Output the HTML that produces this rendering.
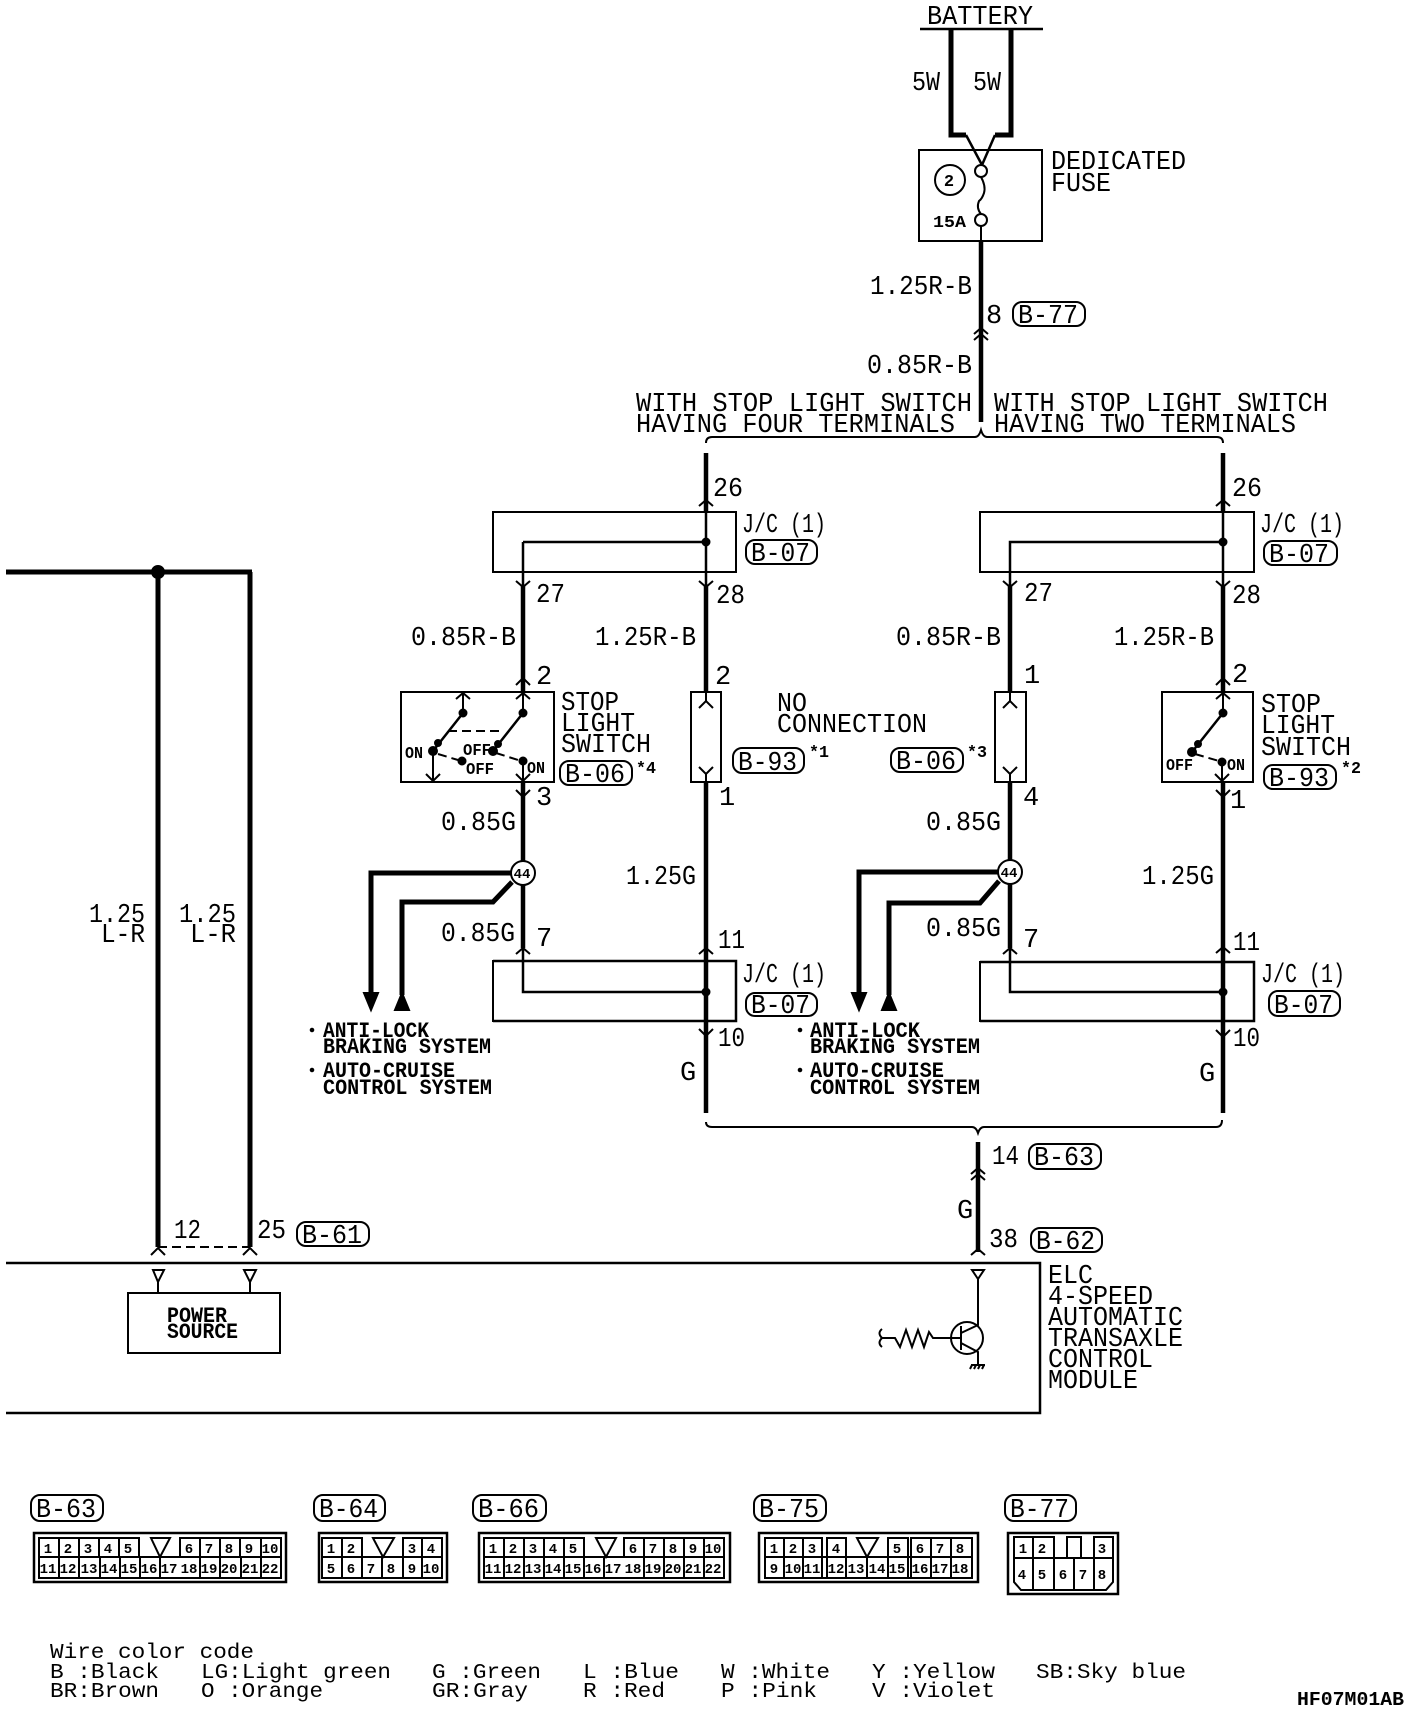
<!DOCTYPE html>
<html><head><meta charset="utf-8"><style>
html,body{margin:0;padding:0;background:#fff}
svg{display:block}
text{font-family:"Liberation Mono",monospace;fill:#000;font-size:27px;white-space:pre;transform:translateX(-1px)}
.s{font-size:22px;font-weight:bold}
.b{font-weight:bold;font-size:17px}
.c{font-weight:bold;font-size:14px;text-anchor:middle}
.l{font-size:21px}
path,rect,circle,line{fill:none;stroke:#000;stroke-width:2}
.w{stroke-width:4.5}.h{stroke-width:5}.f{fill:#000}.wf{fill:#fff}.d{stroke-dasharray:9 5}
.o{stroke-width:2.5}
</style></head><body>
<svg width="1424" height="1712" viewBox="0 0 1424 1712" xmlns="http://www.w3.org/2000/svg">
<!-- battery -->
<text x="928" y="24" textLength="106" lengthAdjust="spacingAndGlyphs">BATTERY</text>
<path d="M920 29H1043" class="o"/>
<path d="M951 29V135H966M1011 29V135H995" class="h"/>
<path d="M966 135L982 165M995 135L982 165" class="o"/>
<text x="913" y="90" textLength="28" lengthAdjust="spacingAndGlyphs">5W</text>
<text x="974" y="90" textLength="28" lengthAdjust="spacingAndGlyphs">5W</text>
<rect x="919" y="150" width="123" height="91"/>
<text x="1052" y="169" textLength="135" lengthAdjust="spacingAndGlyphs">DEDICATED</text>
<text x="1052" y="191" textLength="60" lengthAdjust="spacingAndGlyphs">FUSE</text>
<circle cx="950" cy="180" r="15"/><text class="b" x="950" y="186" text-anchor="middle">2</text>
<text class="b" x="934" y="227" textLength="33" lengthAdjust="spacingAndGlyphs">15A</text>
<circle cx="981" cy="171" r="6" class="wf"/><circle cx="981" cy="220" r="6" class="wf"/>
<path d="M981 177Q986 186 984 193Q982 199 979 201Q976 208 981 214"/>
<path d="M981 226V241"/>
<path d="M981 241V422" class="w"/>
<text x="871" y="294" textLength="102" lengthAdjust="spacingAndGlyphs">1.25R-B</text>
<text x="987" y="323">8</text>
<rect x="1013" y="302" width="72" height="24" rx="9"/><text x="1019" y="323" textLength="60" lengthAdjust="spacingAndGlyphs">B-77</text>
<path d="M974 334L981 328L988 334M974 340L981 334L988 340" />
<text x="868" y="373" textLength="105" lengthAdjust="spacingAndGlyphs">0.85R-B</text>
<text x="637" y="411" textLength="336" lengthAdjust="spacingAndGlyphs">WITH STOP LIGHT SWITCH</text>
<text x="637" y="432" textLength="319" lengthAdjust="spacingAndGlyphs">HAVING FOUR TERMINALS</text>
<text x="995" y="411" textLength="334" lengthAdjust="spacingAndGlyphs">WITH STOP LIGHT SWITCH</text>
<text x="995" y="432" textLength="302" lengthAdjust="spacingAndGlyphs">HAVING TWO TERMINALS</text>
<path d="M706 443Q706 437 712 437L975 437Q979 437 981 430Q983 437 987 437L1217 437Q1223 437 1223 443"/>

<!-- left branch upper -->
<path d="M706 453V512M1223 453V512" class="w"/>
<path d="M699 506L706 500L713 506M1216 506L1223 500L1230 506"/>
<text x="714" y="496" textLength="30" lengthAdjust="spacingAndGlyphs">26</text>
<text x="1233" y="496" textLength="30" lengthAdjust="spacingAndGlyphs">26</text>
<rect x="493" y="512" width="243" height="60"/>
<path d="M523 542H706M523 542V585M706 512V585" class="o"/>
<circle cx="706" cy="542" r="3.5" class="f"/>
<text x="743" y="532" textLength="84" lengthAdjust="spacingAndGlyphs">J/C (1)</text>
<rect x="746" y="540" width="71" height="24" rx="9"/><text x="752" y="561" textLength="59" lengthAdjust="spacingAndGlyphs">B-07</text>
<path d="M516 581L523 587L530 581M699 581L706 587L713 581"/>
<text x="537" y="602" textLength="29" lengthAdjust="spacingAndGlyphs">27</text>
<text x="717" y="603" textLength="29" lengthAdjust="spacingAndGlyphs">28</text>
<path d="M523 585V692M706 585V692" class="w"/>
<text x="412" y="645" textLength="105" lengthAdjust="spacingAndGlyphs">0.85R-B</text>
<text x="596" y="645" textLength="101" lengthAdjust="spacingAndGlyphs">1.25R-B</text>
<text x="537" y="684">2</text><text x="716" y="684">2</text>
<path d="M516 685L523 678L530 685"/>
<!-- switch left -->
<rect x="401" y="692" width="153" height="90"/>
<path d="M456 699L463 693L470 699M516 699L523 693L530 699M463 693V713M523 693V713"/>
<circle cx="463" cy="713" r="3.5" class="f"/><circle cx="523" cy="713" r="3.5" class="f"/>
<path d="M463 713L433 751M523 713L493 751" class="o"/>
<circle cx="433" cy="751" r="4" class="f"/><circle cx="438" cy="743" r="3" class="f"/><circle cx="493" cy="751" r="4" class="f"/><circle cx="498" cy="744" r="3" class="f"/>
<path d="M448 731H503" class="d"/>
<path d="M438 754L458 760M496 753L518 760" class="d"/>
<circle cx="462" cy="761" r="3.5" class="f"/><circle cx="523" cy="761" r="3.5" class="f"/>
<path d="M433 751V782M523 761V782M426 774L433 781L440 774M516 774L523 781L530 774"/>
<text class="b" x="406" y="758" textLength="18" lengthAdjust="spacingAndGlyphs">ON</text>
<text class="b" x="464" y="755" textLength="28" lengthAdjust="spacingAndGlyphs">OFF</text>
<text class="b" x="467" y="774" textLength="28" lengthAdjust="spacingAndGlyphs">OFF</text>
<text class="b" x="528" y="773" textLength="18" lengthAdjust="spacingAndGlyphs">ON</text>
<text x="562" y="710" textLength="58" lengthAdjust="spacingAndGlyphs">STOP</text>
<text x="562" y="731" textLength="74" lengthAdjust="spacingAndGlyphs">LIGHT</text>
<text x="562" y="752" textLength="90" lengthAdjust="spacingAndGlyphs">SWITCH</text>
<rect x="560" y="761" width="72" height="24" rx="9"/><text x="566" y="782" textLength="60" lengthAdjust="spacingAndGlyphs">B-06</text>
<text class="b" x="637" y="773" textLength="20" lengthAdjust="spacingAndGlyphs">*4</text>
<!-- fuse-like B-93 -->
<rect x="691" y="692" width="30" height="90"/>
<path d="M699 708L706 701L713 708M699 767L706 774L713 767M706 774V782M706 692V701"/>
<text x="778" y="711" textLength="30" lengthAdjust="spacingAndGlyphs">NO</text>
<text x="778" y="732" textLength="150" lengthAdjust="spacingAndGlyphs">CONNECTION</text>
<rect x="733" y="748" width="71" height="25" rx="9"/><text x="739" y="770" textLength="59" lengthAdjust="spacingAndGlyphs">B-93</text>
<text class="b" x="810" y="757" textLength="20" lengthAdjust="spacingAndGlyphs">*1</text>
<path d="M706 782V961" class="w"/>
<text x="720" y="805">1</text>
<path d="M516 790L523 797L530 790"/><path d="M523 782V861" class="w"/>
<text x="537" y="805">3</text>
<text x="442" y="830" textLength="75" lengthAdjust="spacingAndGlyphs">0.85G</text>
<text x="627" y="884" textLength="70" lengthAdjust="spacingAndGlyphs">1.25G</text>
<!-- 44 left -->
<path d="M511 873H371V993" class="h"/>
<path d="M512 882L493 902H402V995" class="h"/>
<path d="M364 993H378L371 1010Z" class="f"/>
<path d="M395 1010H409L402 993Z" class="f"/>
<circle cx="523" cy="873" r="12" class="wf"/><text class="c" x="523" y="878">44</text>
<path d="M523 885V948" class="w"/>
<text x="442" y="941" textLength="74" lengthAdjust="spacingAndGlyphs">0.85G</text>
<text x="537" y="946">7</text>
<text x="719" y="948" textLength="27" lengthAdjust="spacingAndGlyphs">11</text>
<path d="M516 954L523 948L530 954M699 954L706 948L713 954"/>
<rect x="493" y="961" width="243" height="60"/>
<path d="M493 961H736V1021H493" class="o"/>
<path d="M523 948V992H706" class="o"/>
<path d="M706 961V1113" class="w"/>
<circle cx="706" cy="992" r="3.5" class="f"/>
<text x="743" y="982" textLength="84" lengthAdjust="spacingAndGlyphs">J/C (1)</text>
<rect x="746" y="993" width="71" height="23" rx="9"/><text x="752" y="1013" textLength="59" lengthAdjust="spacingAndGlyphs">B-07</text>
<path d="M699 1029L706 1036L713 1029"/>
<text x="719" y="1046" textLength="27" lengthAdjust="spacingAndGlyphs">10</text>
<text x="681" y="1080">G</text>
<circle cx="312" cy="1030" r="1.3" class="f"/><circle cx="312" cy="1070" r="1.3" class="f"/>
<text class="s" x="324" y="1037" textLength="106" lengthAdjust="spacingAndGlyphs">ANTI-LOCK</text>
<text class="s" x="324" y="1053" textLength="168" lengthAdjust="spacingAndGlyphs">BRAKING SYSTEM</text>
<text class="s" x="324" y="1077" textLength="132" lengthAdjust="spacingAndGlyphs">AUTO-CRUISE</text>
<text class="s" x="324" y="1094" textLength="169" lengthAdjust="spacingAndGlyphs">CONTROL SYSTEM</text>

<!-- right branch -->
<rect x="980" y="512" width="274" height="60"/>
<path d="M1010 585V542H1223M1223 512V585" class="o"/>
<circle cx="1223" cy="542" r="3.5" class="f"/>
<text x="1261" y="532" textLength="84" lengthAdjust="spacingAndGlyphs">J/C (1)</text>
<rect x="1264" y="541" width="73" height="24" rx="9"/><text x="1270" y="562" textLength="60" lengthAdjust="spacingAndGlyphs">B-07</text>
<path d="M1003 581L1010 587L1017 581M1216 581L1223 587L1230 581"/>
<text x="1025" y="601" textLength="29" lengthAdjust="spacingAndGlyphs">27</text>
<text x="1233" y="603" textLength="29" lengthAdjust="spacingAndGlyphs">28</text>
<path d="M1010 585V692M1223 585V692" class="w"/>
<text x="897" y="645" textLength="105" lengthAdjust="spacingAndGlyphs">0.85R-B</text>
<text x="1115" y="645" textLength="100" lengthAdjust="spacingAndGlyphs">1.25R-B</text>
<text x="1025" y="683">1</text><text x="1233" y="682">2</text>
<path d="M1216 685L1223 678L1230 685"/>
<rect x="995" y="692" width="31" height="90"/>
<path d="M1003 708L1010 701L1017 708M1003 767L1010 774L1017 767M1010 774V782M1010 692V701"/>
<rect x="891" y="748" width="72" height="24" rx="9"/><text x="897" y="769" textLength="60" lengthAdjust="spacingAndGlyphs">B-06</text>
<text class="b" x="968" y="757" textLength="20" lengthAdjust="spacingAndGlyphs">*3</text>
<rect x="1162" y="692" width="91" height="90"/>
<path d="M1216 699L1223 693L1230 699M1223 693V713"/>
<circle cx="1223" cy="713" r="3.5" class="f"/>
<path d="M1223 713L1192 752" class="o"/>
<circle cx="1192" cy="752" r="4" class="f"/><circle cx="1198" cy="744" r="3" class="f"/>
<path d="M1195 754L1219 761" class="d"/>
<circle cx="1222" cy="762" r="3.5" class="f"/>
<path d="M1222 762V782M1215 774L1222 781L1229 774"/>
<text class="b" x="1167" y="770" textLength="27" lengthAdjust="spacingAndGlyphs">OFF</text>
<text class="b" x="1228" y="770" textLength="18" lengthAdjust="spacingAndGlyphs">ON</text>
<text x="1262" y="712" textLength="60" lengthAdjust="spacingAndGlyphs">STOP</text>
<text x="1262" y="733" textLength="74" lengthAdjust="spacingAndGlyphs">LIGHT</text>
<text x="1262" y="755" textLength="90" lengthAdjust="spacingAndGlyphs">SWITCH</text>
<rect x="1264" y="765" width="72" height="24" rx="9"/><text x="1270" y="786" textLength="60" lengthAdjust="spacingAndGlyphs">B-93</text>
<text class="b" x="1342" y="773" textLength="20" lengthAdjust="spacingAndGlyphs">*2</text>
<path d="M1010 782V861" class="w"/>
<path d="M1223 782V962" class="w"/>
<path d="M1216 790L1223 797L1230 790"/>
<text x="1024" y="805">4</text>
<text x="1231" y="808">1</text>
<text x="927" y="830" textLength="75" lengthAdjust="spacingAndGlyphs">0.85G</text>
<text x="1143" y="884" textLength="72" lengthAdjust="spacingAndGlyphs">1.25G</text>
<path d="M998 872H859V993" class="h"/>
<path d="M999 881L980 903H889V995" class="h"/>
<path d="M852 993H866L859 1010Z" class="f"/>
<path d="M882 1010H896L889 993Z" class="f"/>
<circle cx="1010" cy="872" r="12" class="wf"/><text class="c" x="1010" y="877">44</text>
<path d="M1010 884V948" class="w"/>
<text x="927" y="936" textLength="75" lengthAdjust="spacingAndGlyphs">0.85G</text>
<text x="1024" y="947">7</text>
<text x="1234" y="950" textLength="27" lengthAdjust="spacingAndGlyphs">11</text>
<path d="M1003 954L1010 948L1017 954M1216 953L1223 947L1230 953"/>
<rect x="980" y="962" width="274" height="59"/>
<path d="M980 962H1254V1021H980" class="o"/>
<path d="M1010 948V992H1223" class="o"/>
<path d="M1223 962V1113" class="w"/>
<circle cx="1223" cy="992" r="3.5" class="f"/>
<text x="1262" y="982" textLength="84" lengthAdjust="spacingAndGlyphs">J/C (1)</text>
<rect x="1269" y="991" width="71" height="25" rx="9"/><text x="1275" y="1013" textLength="59" lengthAdjust="spacingAndGlyphs">B-07</text>
<path d="M1216 1030L1223 1037L1230 1030"/>
<text x="1234" y="1046" textLength="27" lengthAdjust="spacingAndGlyphs">10</text>
<text x="1200" y="1081">G</text>
<circle cx="800" cy="1030" r="1.3" class="f"/><circle cx="800" cy="1070" r="1.3" class="f"/>
<text class="s" x="811" y="1037" textLength="110" lengthAdjust="spacingAndGlyphs">ANTI-LOCK</text>
<text class="s" x="811" y="1053" textLength="170" lengthAdjust="spacingAndGlyphs">BRAKING SYSTEM</text>
<text class="s" x="811" y="1077" textLength="134" lengthAdjust="spacingAndGlyphs">AUTO-CRUISE</text>
<text class="s" x="811" y="1094" textLength="170" lengthAdjust="spacingAndGlyphs">CONTROL SYSTEM</text>

<!-- bottom bracket -->
<path d="M706 1122Q706 1127 712 1127L972 1127Q976 1127 978 1133Q980 1127 984 1127L1216 1127Q1222 1127 1222 1120"/>
<path d="M978 1142V1252" class="w"/>
<path d="M971 1174L978 1168L985 1174M971 1180L978 1174L985 1180"/>
<text x="993" y="1164" textLength="27" lengthAdjust="spacingAndGlyphs">14</text>
<rect x="1029" y="1144" width="72" height="25" rx="9"/><text x="1035" y="1165" textLength="60" lengthAdjust="spacingAndGlyphs">B-63</text>
<text x="958" y="1218">G</text>
<text x="990" y="1247" textLength="29" lengthAdjust="spacingAndGlyphs">38</text>
<rect x="1031" y="1228" width="71" height="24" rx="9"/><text x="1037" y="1249" textLength="59" lengthAdjust="spacingAndGlyphs">B-62</text>
<path d="M971 1255L978 1249L985 1255"/>
<!-- module -->
<path d="M6 1263H1040V1413H6" class="o"/>
<path d="M972 1270H984L978 1279ZM978 1279V1325L961 1333M961 1326V1350M961 1343L978 1352V1365M971 1365H985M972 1365L970 1369M976 1365L974 1369M980 1365L978 1369M984 1365L982 1369"/>
<circle cx="967" cy="1338" r="16"/>
<path d="M882 1329Q877 1333 882 1338Q877 1343 882 1347M882 1338H895L900 1347L906 1330L912 1347L918 1330L924 1347L929 1332L933 1338H961"/>
<text x="1049" y="1283" textLength="45" lengthAdjust="spacingAndGlyphs">ELC</text>
<text x="1049" y="1304" textLength="105" lengthAdjust="spacingAndGlyphs">4-SPEED</text>
<text x="1049" y="1325" textLength="135" lengthAdjust="spacingAndGlyphs">AUTOMATIC</text>
<text x="1049" y="1346" textLength="135" lengthAdjust="spacingAndGlyphs">TRANSAXLE</text>
<text x="1049" y="1367" textLength="105" lengthAdjust="spacingAndGlyphs">CONTROL</text>
<text x="1049" y="1388" textLength="90" lengthAdjust="spacingAndGlyphs">MODULE</text>

<!-- power wires -->
<path d="M6 572H252M158 572V1247M250 572V1247" class="h"/>
<circle cx="158" cy="572" r="6" class="f"/>
<text x="90" y="922" textLength="56" lengthAdjust="spacingAndGlyphs">1.25</text>
<text x="102" y="942" textLength="44" lengthAdjust="spacingAndGlyphs">L-R</text>
<text x="180" y="922" textLength="57" lengthAdjust="spacingAndGlyphs">1.25</text>
<text x="191" y="942" textLength="46" lengthAdjust="spacingAndGlyphs">L-R</text>
<path d="M158 1247H250" class="d"/>
<path d="M151 1255L158 1248L165 1255M243 1255L250 1248L257 1255"/>
<text x="175" y="1238" textLength="27" lengthAdjust="spacingAndGlyphs">12</text>
<text x="258" y="1238" textLength="29" lengthAdjust="spacingAndGlyphs">25</text>
<rect x="297" y="1222" width="72" height="24" rx="9"/><text x="303" y="1243" textLength="60" lengthAdjust="spacingAndGlyphs">B-61</text>
<path d="M153 1270H164L158 1282ZM158 1282V1293M244 1270H256L250 1282ZM250 1282V1293"/>
<rect x="128" y="1293" width="152" height="60"/>
<text class="s" x="168" y="1322" textLength="60" lengthAdjust="spacingAndGlyphs">POWER</text>
<text class="s" x="168" y="1338" textLength="71" lengthAdjust="spacingAndGlyphs">SOURCE</text>

<!-- connector B-63 -->
<rect x="31" y="1495" width="72" height="26" rx="9"/><text x="37" y="1517" textLength="60" lengthAdjust="spacingAndGlyphs">B-63</text>
<rect x="34" y="1533" width="252" height="49" class="o"/>
<path d="M39 1557V1538H139V1557M59 1538V1578M79 1538V1578M99 1538V1557M100 1557V1578M119 1538V1557M120 1557V1578M140 1557V1578M160 1557V1578M180 1557V1538H281V1578M200 1538V1578M220 1538V1578M240 1538V1557M241 1557V1578M261 1538V1578M39 1557H281V1578H39Z"/>
<path d="M151 1538H170L160 1557Z"/>
<text class="c" x="49" y="1553">1</text><text class="c" x="69" y="1553">2</text><text class="c" x="89" y="1553">3</text><text class="c" x="109" y="1553">4</text><text class="c" x="129" y="1553">5</text><text class="c" x="190" y="1553">6</text><text class="c" x="210" y="1553">7</text><text class="c" x="230" y="1553">8</text><text class="c" x="250" y="1553">9</text><text class="c" x="271" y="1553">10</text>
<text class="c" x="49" y="1573">11</text><text class="c" x="69" y="1573">12</text><text class="c" x="90" y="1573">13</text><text class="c" x="110" y="1573">14</text><text class="c" x="130" y="1573">15</text><text class="c" x="150" y="1573">16</text><text class="c" x="170" y="1573">17</text><text class="c" x="190" y="1573">18</text><text class="c" x="210" y="1573">19</text><text class="c" x="230" y="1573">20</text><text class="c" x="251" y="1573">21</text><text class="c" x="271" y="1573">22</text>

<!-- connector B-64 -->
<rect x="314" y="1495" width="71" height="26" rx="9"/><text x="320" y="1517" textLength="59" lengthAdjust="spacingAndGlyphs">B-64</text>
<rect x="319" y="1533" width="128" height="49" class="o"/>
<path d="M322 1557V1538H362V1557M342 1538V1578M403 1557V1538H442V1578H322V1557H442M422 1538V1578M362 1557V1578M382 1557V1578M403 1557V1578"/>
<path d="M373 1538H394L383 1557Z"/>
<text class="c" x="332" y="1553">1</text><text class="c" x="352" y="1553">2</text><text class="c" x="413" y="1553">3</text><text class="c" x="432" y="1553">4</text>
<text class="c" x="332" y="1573">5</text><text class="c" x="352" y="1573">6</text><text class="c" x="372" y="1573">7</text><text class="c" x="392" y="1573">8</text><text class="c" x="413" y="1573">9</text><text class="c" x="432" y="1573">10</text>

<!-- connector B-66 -->
<rect x="473" y="1495" width="73" height="26" rx="9"/><text x="479" y="1517" textLength="61" lengthAdjust="spacingAndGlyphs">B-66</text>
<rect x="479" y="1533" width="251" height="49" class="o"/>
<path d="M484 1557V1538H584V1557M504 1538V1578M524 1538V1578M544 1538V1578M564 1538V1578M584 1557V1578M604 1557V1578M624 1557V1538H724V1578H484V1557H724M644 1538V1578M664 1538V1578M684 1538V1578M704 1538V1578"/>
<path d="M596 1538H616L606 1557Z"/>
<text class="c" x="494" y="1553">1</text><text class="c" x="514" y="1553">2</text><text class="c" x="534" y="1553">3</text><text class="c" x="554" y="1553">4</text><text class="c" x="574" y="1553">5</text><text class="c" x="634" y="1553">6</text><text class="c" x="654" y="1553">7</text><text class="c" x="674" y="1553">8</text><text class="c" x="694" y="1553">9</text><text class="c" x="714" y="1553">10</text>
<text class="c" x="494" y="1573">11</text><text class="c" x="514" y="1573">12</text><text class="c" x="534" y="1573">13</text><text class="c" x="554" y="1573">14</text><text class="c" x="574" y="1573">15</text><text class="c" x="594" y="1573">16</text><text class="c" x="614" y="1573">17</text><text class="c" x="634" y="1573">18</text><text class="c" x="654" y="1573">19</text><text class="c" x="674" y="1573">20</text><text class="c" x="694" y="1573">21</text><text class="c" x="714" y="1573">22</text>

<!-- connector B-75 -->
<rect x="754" y="1495" width="72" height="26" rx="9"/><text x="760" y="1517" textLength="60" lengthAdjust="spacingAndGlyphs">B-75</text>
<rect x="759" y="1533" width="219" height="49" class="o"/>
<path d="M765 1557V1538H822V1578M784 1538V1578M803 1538V1578M827 1578V1538H846V1557M846 1557V1578M867 1557V1578M888 1578V1538H908V1578M911 1578V1538H972V1578H765V1557H972M931 1538V1578M951 1538V1578"/>
<path d="M857 1538H878L867 1557Z"/>
<text class="c" x="775" y="1553">1</text><text class="c" x="794" y="1553">2</text><text class="c" x="813" y="1553">3</text><text class="c" x="837" y="1553">4</text><text class="c" x="898" y="1553">5</text><text class="c" x="921" y="1553">6</text><text class="c" x="941" y="1553">7</text><text class="c" x="961" y="1553">8</text>
<text class="c" x="775" y="1573">9</text><text class="c" x="794" y="1573">10</text><text class="c" x="813" y="1573">11</text><text class="c" x="837" y="1573">12</text><text class="c" x="857" y="1573">13</text><text class="c" x="878" y="1573">14</text><text class="c" x="898" y="1573">15</text><text class="c" x="921" y="1573">16</text><text class="c" x="941" y="1573">17</text><text class="c" x="961" y="1573">18</text>

<!-- connector B-77 -->
<rect x="1005" y="1495" width="71" height="26" rx="9"/><text x="1011" y="1517" textLength="59" lengthAdjust="spacingAndGlyphs">B-77</text>
<rect x="1008" y="1533" width="110" height="61" class="o"/>
<path d="M1014 1558V1537H1054V1558M1033 1537V1590M1067 1558V1537H1081V1558M1094 1558V1537H1113V1558M1014 1558H1113V1582L1106 1590H1021L1014 1582ZM1054 1558V1590M1074 1558V1590M1094 1558V1590"/>
<text class="c" x="1024" y="1553">1</text><text class="c" x="1043" y="1553">2</text><text class="c" x="1103" y="1553">3</text>
<text class="c" x="1023" y="1579">4</text><text class="c" x="1043" y="1579">5</text><text class="c" x="1064" y="1579">6</text><text class="c" x="1084" y="1579">7</text><text class="c" x="1103" y="1579">8</text>

<!-- legend -->
<text class="l" x="51" y="1658" textLength="204" lengthAdjust="spacingAndGlyphs">Wire color code</text>
<text class="l" x="51" y="1678" textLength="109" lengthAdjust="spacingAndGlyphs">B :Black</text>
<text class="l" x="51" y="1697" textLength="109" lengthAdjust="spacingAndGlyphs">BR:Brown</text>
<text class="l" x="202" y="1678" textLength="190" lengthAdjust="spacingAndGlyphs">LG:Light green</text>
<text class="l" x="202" y="1697" textLength="122" lengthAdjust="spacingAndGlyphs">O :Orange</text>
<text class="l" x="433" y="1678" textLength="109" lengthAdjust="spacingAndGlyphs">G :Green</text>
<text class="l" x="433" y="1697" textLength="96" lengthAdjust="spacingAndGlyphs">GR:Gray</text>
<text class="l" x="584" y="1678" textLength="96" lengthAdjust="spacingAndGlyphs">L :Blue</text>
<text class="l" x="584" y="1697" textLength="82" lengthAdjust="spacingAndGlyphs">R :Red</text>
<text class="l" x="722" y="1678" textLength="109" lengthAdjust="spacingAndGlyphs">W :White</text>
<text class="l" x="722" y="1697" textLength="96" lengthAdjust="spacingAndGlyphs">P :Pink</text>
<text class="l" x="873" y="1678" textLength="123" lengthAdjust="spacingAndGlyphs">Y :Yellow</text>
<text class="l" x="873" y="1697" textLength="123" lengthAdjust="spacingAndGlyphs">V :Violet</text>
<text class="l" x="1037" y="1678" textLength="150" lengthAdjust="spacingAndGlyphs">SB:Sky blue</text>
<text x="1298" y="1705" style="font-size:19px;font-weight:bold" textLength="107" lengthAdjust="spacingAndGlyphs">HF07M01AB</text>
</svg>
</body></html>
